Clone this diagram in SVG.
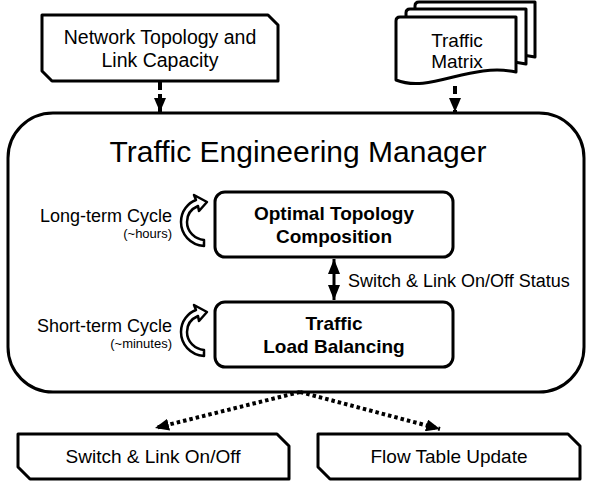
<svg xmlns="http://www.w3.org/2000/svg" width="589" height="485" viewBox="0 0 589 485">
<style>
.box{fill:#fff;stroke:#000;stroke-width:3;stroke-linejoin:round}
.t{font-family:"Liberation Sans",Arial,sans-serif;fill:#000}
.b{font-weight:bold}
.dash{stroke:#000;stroke-width:4;fill:none;stroke-dasharray:8 4}
.dot{stroke:#000;stroke-width:4;fill:none;stroke-dasharray:3.5 3}
.cyc{fill:#fff;stroke:#000;stroke-width:2.5;stroke-linejoin:round}
</style>
<defs>
<marker id="ah" viewBox="0 0 14 12" refX="14" refY="6" markerWidth="14" markerHeight="12" markerUnits="userSpaceOnUse" orient="auto">
<path d="M0,0 L14,6 L0,12 Z" fill="#000"/>
</marker>
<marker id="ah2" viewBox="0 0 15 12" refX="15" refY="6" markerWidth="15" markerHeight="12" markerUnits="userSpaceOnUse" orient="auto-start-reverse">
<path d="M0,0 L15,6 L0,12 Z" fill="#000"/>
</marker>
<path id="doc" d="M396,21 Q396,17 400,17 H516 V72 C470,62 430,94 396,80 Z"/>
<path id="cycle" d="M204,246 C190,245 181,234 181,222 C181,211 188,203 196,200 L194,195 L207,202 L199,211 L198,206 C191,209 187,215 187,222 C187,232 195,239 204,240 Z"/>
</defs>

<g id="connectors">
<line class="dash" x1="160" y1="82" x2="160" y2="112" marker-end="url(#ah)"/>
<line class="dash" x1="455" y1="86" x2="455" y2="112" marker-end="url(#ah)"/>
<line x1="334" y1="259" x2="334" y2="300" stroke="#000" stroke-width="3" marker-start="url(#ah2)" marker-end="url(#ah2)"/>
<line class="dot" x1="300" y1="392" x2="155" y2="428" marker-end="url(#ah)"/>
<line class="dot" x1="300" y1="392" x2="440" y2="429" marker-end="url(#ah)"/>
</g>

<g id="network-topology">
<path class="box" d="M42,15 H268 L278,25 V81 H52 L42,71 Z"/>
<text class="t" x="160" y="44" font-size="19.5" text-anchor="middle">Network Topology and</text>
<text class="t" x="160" y="67" font-size="19.5" text-anchor="middle">Link Capacity</text>
</g>

<g id="traffic-matrix">
<use href="#doc" class="box" transform="translate(19,-15)"/>
<use href="#doc" class="box" transform="translate(10,-8)"/>
<use href="#doc" class="box"/>
<text class="t" x="457" y="47" font-size="19" text-anchor="middle">Traffic</text>
<text class="t" x="457" y="68" font-size="19" text-anchor="middle">Matrix</text>
</g>

<g id="te-manager">
<rect class="box" x="8" y="113" width="576" height="279" rx="45" style="fill:none"/>
<text class="t" x="298" y="162" font-size="30" text-anchor="middle">Traffic Engineering Manager</text>
</g>

<g id="long-term-cycle">
<use href="#cycle" class="cyc"/>
<text class="t" x="172" y="222" font-size="18" text-anchor="end">Long-term Cycle</text>
<text class="t" x="172" y="238" font-size="13" text-anchor="end" fill="#333">(~hours)</text>
</g>

<g id="short-term-cycle">
<use href="#cycle" class="cyc" transform="translate(0,110)"/>
<text class="t" x="172" y="332" font-size="18" text-anchor="end">Short-term Cycle</text>
<text class="t" x="172" y="348" font-size="13" text-anchor="end" fill="#333">(~minutes)</text>
</g>

<g id="optimal-topology">
<rect class="box" x="215" y="192" width="238" height="65" rx="10"/>
<text class="t b" x="334" y="220" font-size="19" text-anchor="middle">Optimal Topology</text>
<text class="t b" x="334" y="243" font-size="19" text-anchor="middle">Composition</text>
</g>

<g id="status-label">
<text class="t" x="348" y="287" font-size="18">Switch &amp; Link On/Off Status</text>
</g>

<g id="load-balancing">
<rect class="box" x="215" y="302" width="238" height="65" rx="10"/>
<text class="t b" x="334" y="330" font-size="19" text-anchor="middle">Traffic</text>
<text class="t b" x="334" y="353" font-size="19" text-anchor="middle">Load Balancing</text>
</g>

<g id="switch-link">
<path class="box" d="M18,434 H277 L289,446 V479 H30 L18,467 Z"/>
<text class="t" x="153" y="463" font-size="19" text-anchor="middle">Switch &amp; Link On/Off</text>
</g>

<g id="flow-table">
<path class="box" d="M318,434 H568 L580,446 V479 H330 L318,467 Z"/>
<text class="t" x="449" y="463" font-size="19" text-anchor="middle">Flow Table Update</text>
</g>
</svg>
